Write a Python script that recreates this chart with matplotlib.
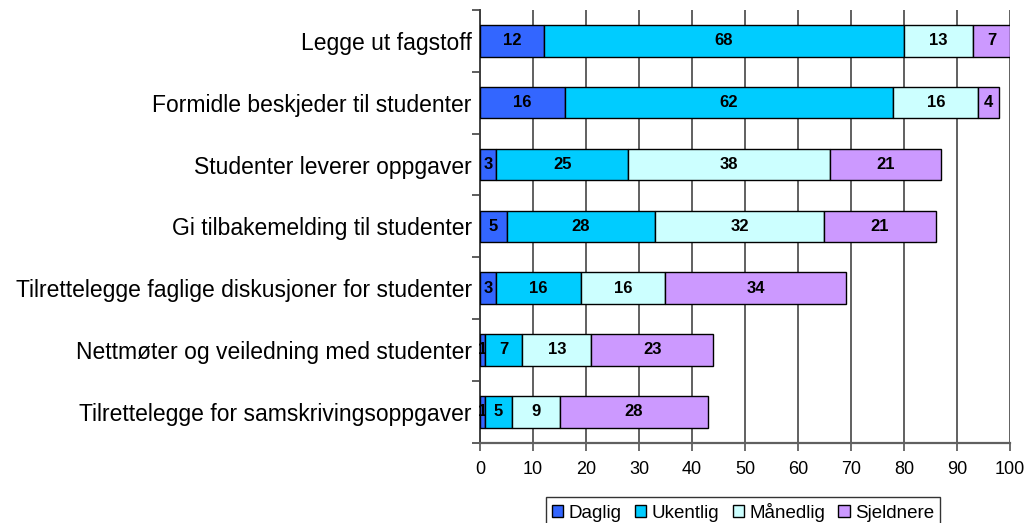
import numpy as np
import matplotlib
matplotlib.use('Agg')
import matplotlib.pyplot as plt

plt.rcParams['font.family'] = ['Liberation Sans', 'DejaVu Sans']

# ----data----
categories = ['Legge ut fagstoff',
              'Formidle beskjeder til studenter',
              'Studenter leverer oppgaver',
              'Gi tilbakemelding til studenter',
              'Tilrettelegge faglige diskusjoner for studenter',
              'Nettmøter og veiledning med studenter',
              'Tilrettelegge for samskrivingsoppgaver']
series_names = ['Daglig', 'Ukentlig', 'Månedlig', 'Sjeldnere']
daglig = [12, 16, 3, 5, 3, 1, 1]
ukentlig = [68, 62, 25, 28, 16, 7, 5]
maanedlig = [13, 16, 38, 32, 16, 13, 9]
sjeldnere = [7, 4, 21, 21, 34, 23, 28]
colors = ['#3366FF', '#00CCFF', '#CCFFFF', '#CC99FF']
xticks = list(range(0, 101, 10))

fig = plt.figure(figsize=(10.27, 5.23), dpi=100)
ax = fig.add_axes([0.4674, 0.1535, 0.516, 0.8274])

y = np.arange(len(categories))
left = np.zeros(len(categories))
for vals, name, col in zip([daglig, ukentlig, maanedlig, sjeldnere], series_names, colors):
    bars = ax.barh(y, vals, left=left, height=0.51, color=col, edgecolor='black',
                   linewidth=1, label=name, zorder=3)
    ax.bar_label(bars, labels=[str(v) for v in vals], label_type='center',
                 fontsize=12, fontweight='bold', color='black')
    left = left + np.array(vals)

ax.set_ylim(len(categories) - 0.5, -0.5)
ax.set_xlim(0, 100)
ax.set_xticks(xticks)
ax.set_xticklabels([str(t) for t in xticks], fontsize=13)
ax.set_yticks(y)
ax.set_yticklabels(categories, fontsize=16.5)
ax.tick_params(axis='y', length=0, pad=6)
ax.set_yticks(np.arange(len(categories) + 1) - 0.5, minor=True)
ax.tick_params(axis='y', which='minor', length=6, color='#505050', width=1.3)
ax.tick_params(axis='x', length=6, color='#606060', width=1.3, pad=7)

ax.grid(axis='x', color='#606060', linewidth=1.4, zorder=0)
ax.set_axisbelow(True)
for s in ['top', 'right']:
    ax.spines[s].set_visible(False)
ax.spines['left'].set_color('#404040')
ax.spines['left'].set_linewidth(1.4)
ax.spines['bottom'].set_color('#606060')
ax.spines['bottom'].set_linewidth(1.6)

leg = fig.legend(loc='upper center', bbox_to_anchor=(0.7236, 0.0497), ncol=4,
                 fontsize=13.5, frameon=True, fancybox=False, edgecolor='black',
                 handlelength=0.6, handleheight=0.6, handletextpad=0.3,
                 columnspacing=0.7, borderpad=0.3, borderaxespad=0)
leg.get_frame().set_linewidth(1)

plt.savefig('out.png', dpi=100)
